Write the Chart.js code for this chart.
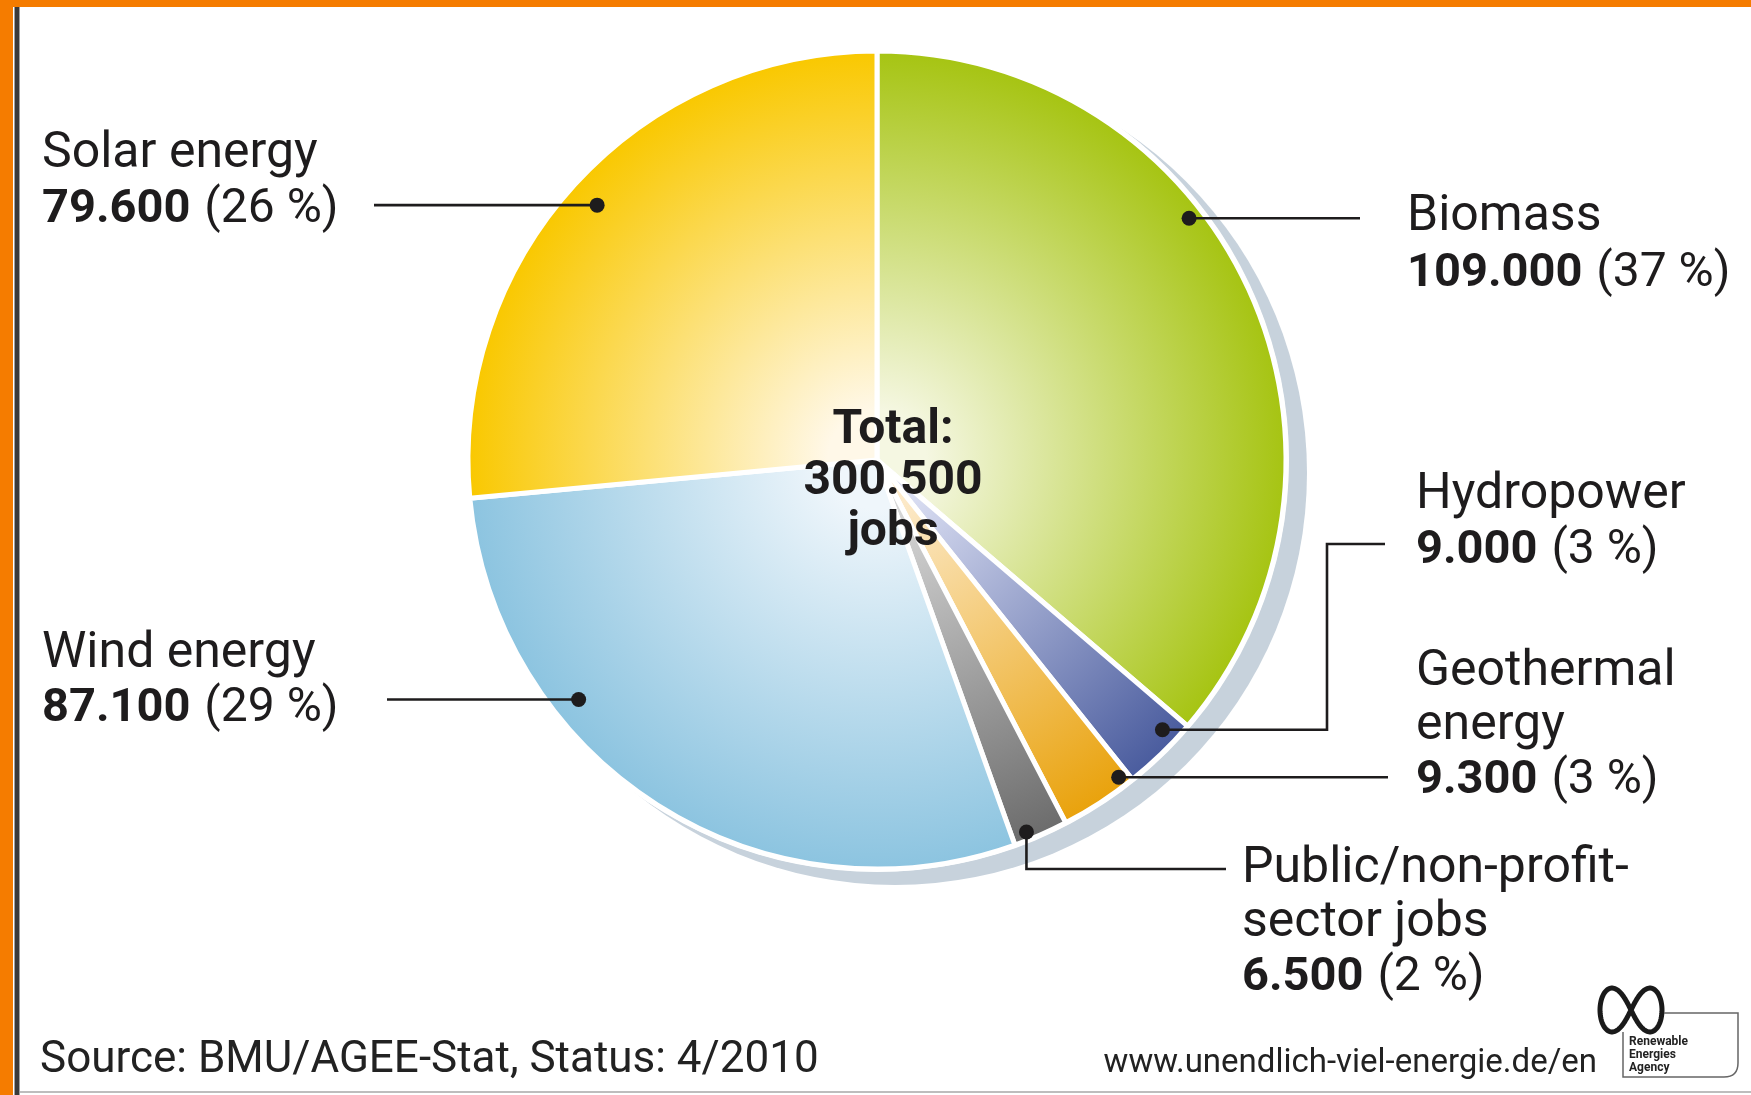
<!DOCTYPE html>
<html>
<head>
<meta charset="utf-8">
<title>Jobs in renewable energies</title>
<script src="https://cdn.jsdelivr.net/npm/chart.js@4.4.1/dist/chart.umd.min.js"></script>
<style>
  html, body { margin: 0; padding: 0; background: #ffffff; overflow: hidden; }
  #wrap { position: relative; width: 1751px; height: 1095px; }
  canvas { display: block; }
</style>
</head>
<body>
<div id="wrap"><canvas id="jobsPie" width="1751" height="1095"></canvas></div>
<script>
// Employment by renewable energy source (clockwise from 12 o'clock)
const categories = ['Biomass', 'Hydropower', 'Geothermal energy', 'Public/non-profit-sector jobs', 'Wind energy', 'Solar energy'];
const jobs = [109000, 9000, 9300, 6500, 87100, 79600];
const sharePct = [37, 3, 3, 2, 29, 26];
const labelLines = [
  ['Biomass'],
  ['Hydropower'],
  ['Geothermal', 'energy'],
  ['Public/non-profit-', 'sector jobs'],
  ['Wind energy'],
  ['Solar energy']
];
const totalLines = ['Total:', null, 'jobs'];
const sourceText = 'Source: BMU/AGEE-Stat, Status: 4/2010';
const urlText = 'www.unendlich-viel-energie.de/en';
const logoLines = ['Renewable', 'Energies', 'Agency'];

// Slice shading: pale near the hub, saturated at the rim
const innerColors = ['#f5f7e2', '#dadef2', '#fce9c8', '#d8d8d8', '#eff6fb', '#fff8e8'];
const outerColors = ['#a6c412', '#4a5c9e', '#e9a20c', '#6c6c6c', '#8cc4e0', '#f9c800'];

const PIE_RADIUS = 409;
const FONT = 'Roboto, "Open Sans", sans-serif';
const INK = '#1e1c1d';

// German thousands separator
function fmt(n) {
  return String(Math.round(n)).replace(/\B(?=(\d{3})+(?!\d))/g, '.');
}

// Label blocks: text origin, baseline of first line, line step
const labelLayout = [
  { x: 1407, y: 230, step: 56 },
  { x: 1416, y: 508, step: 55 },
  { x: 1416, y: 685, step: 54 },
  { x: 1242, y: 882, step: 54 },
  { x: 42,   y: 667, step: 54 },
  { x: 42,   y: 167, step: 55 }
];
// Where each marker dot sits inside its slice: angular fraction, radial fraction
const dotPlacement = [
  { t: 0.40, r: 0.97 },
  { t: 0.26, r: 0.965 },
  { t: 0.12, r: 0.98 },
  { t: 0.72, r: 0.985 },
  { t: 0.68, r: 0.94 },
  { t: 0.50, r: 0.93 }
];
// Leader line routes from the dot to its label
const leaderRoutes = [
  d => [[d.x, d.y], [1360, d.y]],
  d => [[d.x, d.y], [1327, d.y], [1327, 544], [1385, 544]],
  d => [[d.x, d.y], [1388, d.y]],
  d => [[d.x, d.y], [d.x, 869], [1226, 869]],
  d => [[d.x, d.y], [387, d.y]],
  d => [[d.x, d.y], [374, d.y]]
];

function sliceFill(ctx) {
  const i = ctx.dataIndex;
  const area = ctx.chart.chartArea;
  if (!area || i === undefined) return outerColors[i] || '#ccc';
  const cx = (area.left + area.right) / 2;
  const cy = (area.top + area.bottom) / 2;
  const g = ctx.chart.ctx.createRadialGradient(cx, cy, 0, cx, cy, PIE_RADIUS);
  g.addColorStop(0, innerColors[i]);
  g.addColorStop(0.12, innerColors[i]);
  g.addColorStop(1, outerColors[i]);
  return g;
}

// Page frame, rim shadow, markers and all annotation text
const decorations = {
  id: 'decorations',
  beforeDraw(chart) {
    const c = chart.ctx;
    c.save();
    c.fillStyle = '#ffffff';
    c.fillRect(0, 0, chart.width, chart.height);
    c.fillStyle = '#f57c00';
    c.fillRect(0, 0, chart.width, 7);
    c.fillRect(0, 0, 13, chart.height);
    c.fillStyle = '#a0a0a0';
    c.fillRect(14, 7, 1, chart.height - 7);
    c.fillRect(19, 7, 1, chart.height - 7);
    c.fillStyle = '#3a3a3a';
    c.fillRect(15, 7, 4, chart.height - 7);
    c.fillStyle = '#bdbdbd';
    c.fillRect(20, 1091, chart.width - 20, 2);
    c.restore();
  },
  beforeDatasetsDraw(chart) {
    const arc = chart.getDatasetMeta(0).data[0];
    if (!arc) return;
    const c = chart.ctx;
    const R = arc.outerRadius;
    c.save();
    c.fillStyle = '#c7d2dc';
    c.beginPath();
    c.arc(arc.x + 18, arc.y + 13, R + 3, 0, Math.PI * 2);
    c.fill();
    c.fillStyle = '#ffffff';
    c.beginPath();
    c.arc(arc.x, arc.y, R + 3, 0, Math.PI * 2);
    c.fill();
    c.restore();
  },
  afterDatasetsDraw(chart) {
    const arcs = chart.getDatasetMeta(0).data;
    const c = chart.ctx;
    c.save();
    c.strokeStyle = INK;
    c.fillStyle = INK;
    c.lineWidth = 2.6;
    c.lineJoin = 'miter';
    arcs.forEach((a, i) => {
      const p = dotPlacement[i];
      const ang = a.startAngle + p.t * (a.endAngle - a.startAngle);
      const rr = p.r * (a.outerRadius - 2);
      const d = { x: a.x + Math.cos(ang) * rr, y: a.y + Math.sin(ang) * rr };
      const pts = leaderRoutes[i](d);
      c.beginPath();
      c.moveTo(pts[0][0], pts[0][1]);
      for (let k = 1; k < pts.length; k++) c.lineTo(pts[k][0], pts[k][1]);
      c.stroke();
      c.beginPath();
      c.arc(d.x, d.y, 7.5, 0, Math.PI * 2);
      c.fill();
    });
    c.restore();
  },
  afterDraw(chart) {
    const c = chart.ctx;
    c.save();
    c.fillStyle = INK;
    c.textBaseline = 'alphabetic';
    c.textAlign = 'left';

    // slice labels: name lines, then bold count with share in brackets
    labelLines.forEach((lines, i) => {
      const L = labelLayout[i];
      let y = L.y;
      c.font = '400 50px ' + FONT;
      lines.forEach(line => { c.fillText(line, L.x, y); y += L.step; });
      const num = fmt(jobs[i]);
      c.font = '700 47px ' + FONT;
      c.fillText(num, L.x, y);
      const w = c.measureText(num).width;
      c.font = '400 48px ' + FONT;
      c.fillText(' (' + sharePct[i] + ' %)', L.x + w + 2, y);
    });

    // total in the hub
    const total = jobs.reduce((s, v) => s + v, 0);
    c.textAlign = 'center';
    c.font = '700 48px ' + FONT;
    const tl = [totalLines[0], fmt(total), totalLines[2]];
    const ty = [443, 494, 545];
    tl.forEach((t, k) => c.fillText(t, 893, ty[k]));

    // footer
    c.textAlign = 'left';
    c.font = '400 44px ' + FONT;
    c.fillStyle = '#222';
    c.fillText(sourceText, 40, 1072);
    c.font = '400 33px ' + FONT;
    c.textAlign = 'right';
    c.fillText(urlText, 1597, 1072);

    // agency mark
    c.strokeStyle = '#1a1a1a';
    c.lineWidth = 5;
    c.beginPath();
    const mx = 1631, my = 1010, a = 31;
    for (let s = 0; s <= 200; s++) {
      const th = (s / 200) * Math.PI * 2;
      const den = 1 + Math.sin(th) * Math.sin(th);
      const px = mx + a * Math.cos(th) / den;
      const py = my + 2.0 * a * Math.sin(th) * Math.cos(th) / den;
      if (s === 0) c.moveTo(px, py); else c.lineTo(px, py);
    }
    c.closePath();
    c.stroke();
    c.strokeStyle = '#666';
    c.lineWidth = 1.5;
    c.beginPath();
    c.moveTo(1664, 1013);
    c.lineTo(1738, 1013);
    c.lineTo(1738, 1063);
    c.quadraticCurveTo(1738, 1077, 1724, 1077);
    c.lineTo(1623, 1077);
    c.lineTo(1623, 1032);
    c.stroke();
    c.fillStyle = '#222';
    c.textAlign = 'left';
    c.font = '700 12px ' + FONT;
    logoLines.forEach((t, k) => c.fillText(t, 1629, 1045 + k * 13));
    c.restore();
  }
};

new Chart(document.getElementById('jobsPie'), {
  type: 'pie',
  data: {
    labels: categories,
    datasets: [{
      data: jobs,
      backgroundColor: sliceFill,
      borderColor: '#ffffff',
      borderWidth: 5,
      hoverOffset: 0
    }]
  },
  options: {
    responsive: false,
    devicePixelRatio: 1,
    animation: false,
    events: [],
    radius: PIE_RADIUS,
    rotation: 0,
    layout: { padding: { left: 470, right: 467, top: 50, bottom: 225 } },
    plugins: {
      legend: { display: false },
      tooltip: { enabled: false },
      title: { display: false }
    }
  },
  plugins: [decorations]
});
</script>
</body>
</html>
